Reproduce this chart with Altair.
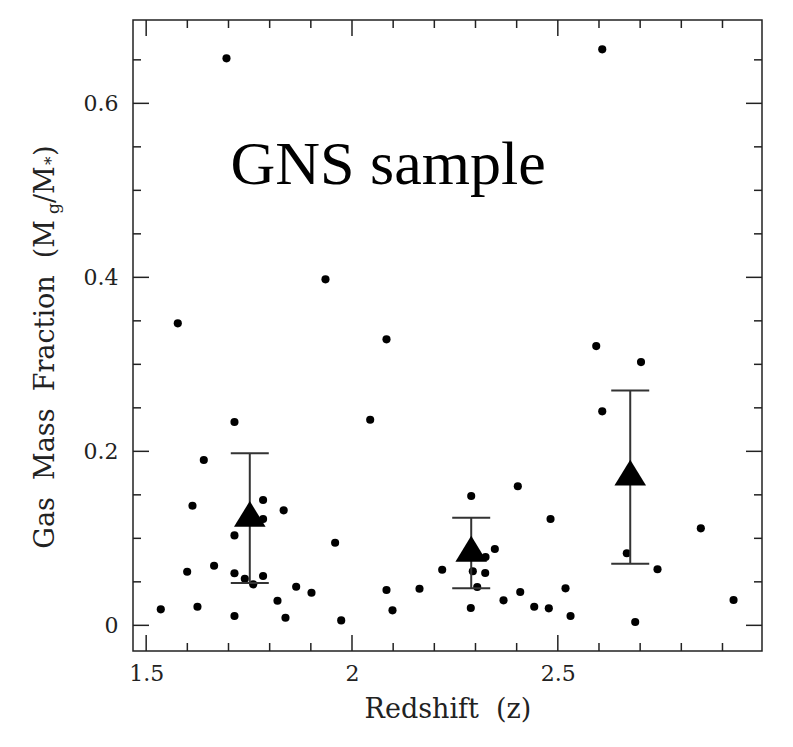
import altair as alt
import pandas as pd

# ---- data ----
z = [1.7145, 1.640, 1.6125, 1.784, 1.784, 1.834, 1.7145, 1.959, 1.5996, 1.665,
     1.7145, 1.7396, 1.760, 1.784, 1.8644, 1.9016, 1.819, 1.5355, 1.6246, 1.7145,
     1.8384, 1.9738, 2.0442, 2.2896, 2.4028, 2.4823, 2.0838, 2.0984, 2.164, 2.2191,
     2.2935, 2.3236, 2.3244, 2.347, 2.3042, 2.2886, 2.3681, 2.4087, 2.4427, 2.4781,
     2.5187, 2.5309, 2.5933, 2.7021, 2.6079, 2.8474, 2.6676, 2.7422, 2.688, 2.9269,
     1.6951, 1.5768, 1.9356, 2.0838, 2.6079]
fgas = [0.2337, 0.190, 0.1375, 0.144, 0.1222, 0.1322, 0.1034, 0.0949, 0.0616, 0.0685,
        0.0598, 0.0536, 0.0471, 0.0567, 0.0444, 0.0375, 0.0283, 0.0184, 0.0214, 0.0107,
        0.0087, 0.0057, 0.2363, 0.1486, 0.1598, 0.1222, 0.0406, 0.0172, 0.0421, 0.0639,
        0.0621, 0.0601, 0.0785, 0.0877, 0.0440, 0.0199, 0.0287, 0.0383, 0.0214, 0.0195,
        0.0425, 0.0107, 0.3210, 0.3026, 0.2460, 0.1115, 0.0828, 0.0644, 0.0038, 0.0291,
        0.6517, 0.3471, 0.3977, 0.3287, 0.6621]

bin_z = [1.7517, 2.2896, 2.6759]
bin_mean = [0.1231, 0.0831, 0.1705]
bin_lo = [0.0486, 0.0425, 0.0708]
bin_hi = [0.1977, 0.1237, 0.2700]

x_major = [1.5, 2.0, 2.5]
x_minor = [1.6, 1.7, 1.8, 1.9, 2.1, 2.2, 2.3, 2.4, 2.6, 2.7, 2.8, 2.9]
y_major = [0.0, 0.2, 0.4, 0.6]
y_minor = [0.05, 0.1, 0.15, 0.25, 0.3, 0.35, 0.45, 0.5, 0.55, 0.65]

label_text = ["GNS sample"]
label_x = [1.705]
label_y = [0.507]

# ---- layout ----
W, H = 629, 631
INK = "#222222"
SERIF = "DejaVu Serif"

xs = alt.Scale(domain=[1.468, 2.996], nice=False, zero=False)
ys = alt.Scale(domain=[-0.0295, 0.6958], nice=False, zero=False)

pts = pd.DataFrame({"z": z, "f": fgas})
bins = pd.DataFrame({"z": bin_z, "m": bin_mean, "lo": bin_lo, "hi": bin_hi})
caps = pd.DataFrame({"z": bin_z + bin_z, "v": bin_lo + bin_hi})

xaxis = alt.Axis(values=x_major, ticks=False, domain=False, grid=False,
                 labelFont=SERIF, labelFontSize=22, labelColor=INK, labelPadding=12,
                 labelExpr="datum.value + ''",
                 title="Redshift\u00a0\u00a0(z)", titleFont=SERIF, titleFontSize=27,
                 titleFontWeight="normal", titleColor=INK, titleBaseline="alphabetic",
                 titleY=66, titleX=W / 2, titleAlign="center")
yaxis = alt.Axis(values=y_major, ticks=False, domain=False, grid=False,
                 labelFont=SERIF, labelFontSize=22, labelColor=INK, labelPadding=15,
                 labelExpr="datum.value + ''", title=None)


def X(field):
    return alt.X(field, scale=xs, axis=xaxis)


def Y(field):
    return alt.Y(field, scale=ys, axis=yaxis)


points = alt.Chart(pts).mark_circle(size=66, color="black", opacity=1).encode(
    x=X("z:Q"), y=Y("f:Q"))


def xtick_layer(vals, y0, y1):
    return alt.Chart(pd.DataFrame({"t": vals})).mark_rule(color=INK, strokeWidth=1.5).encode(
        x=X("t:Q"), y=alt.value(y0), y2=alt.value(y1))


def ytick_layer(vals, x0, x1):
    return alt.Chart(pd.DataFrame({"t": vals})).mark_rule(color=INK, strokeWidth=1.5).encode(
        y=Y("t:Q"), x=alt.value(x0), x2=alt.value(x1))


MAJ, MIN = 16, 8
ticks = [
    xtick_layer(x_major, H, H - MAJ), xtick_layer(x_minor, H, H - MIN),
    xtick_layer(x_major, 0, MAJ), xtick_layer(x_minor, 0, MIN),
    ytick_layer(y_major, 0, MAJ), ytick_layer(y_minor, 0, MIN),
    ytick_layer(y_major, W, W - MAJ), ytick_layer(y_minor, W, W - MIN),
]

err = alt.Chart(bins).mark_rule(color="#333333", strokeWidth=2).encode(
    x=X("z:Q"), y=Y("lo:Q"), y2="hi:Q")
cap = alt.Chart(caps).mark_tick(color="#333333", orient="horizontal", size=38,
                                thickness=2, opacity=1).encode(
    x=X("z:Q"), y=Y("v:Q"))
tri = alt.Chart(bins).mark_point(shape="M0,-1.09L1,0.545L-1,0.545Z", size=1000,
                                 filled=True, color="black", opacity=1,
                                 strokeWidth=0).encode(
    x=X("z:Q"), y=Y("m:Q"))

label = alt.Chart(pd.DataFrame({"x": label_x, "y": label_y, "t": label_text})).mark_text(
    font="Liberation Serif", fontSize=62, align="left", baseline="alphabetic",
    color="black").encode(
    x=X("x:Q"), y=Y("y:Q"), text="t:N")

one = pd.DataFrame({"k": [0]})


def ytitle_piece(txt, ypx, size, dx, align):
    return alt.Chart(one).mark_text(
        text=txt, font=SERIF, fontSize=size, angle=270, align=align,
        baseline="alphabetic", color=INK).encode(
        x=alt.value(-79 + dx), y=alt.value(ypx))


ytitle = [
    ytitle_piece("Gas\u00a0\u00a0Mass\u00a0\u00a0Fraction\u00a0\u00a0(M", 200, 27, 0, "right"),
    ytitle_piece("g", 194, 17, 5, "left"),
    ytitle_piece("/M", 183, 27, 0, "left"),
    ytitle_piece("*", 145, 17, 3, "left"),
    ytitle_piece(")", 136, 27, 0, "left"),
]

chart = alt.layer(points, *ticks, err, cap, tri, label, *ytitle).properties(
    width=W, height=H,
    autosize=alt.AutoSizeParams(type="none"),
    padding={"left": 125, "top": 12, "right": 20, "bottom": 80},
    background="white",
).configure_view(stroke=INK, strokeWidth=1.5)

chart.save("out.html", embed_options={"renderer": "svg", "actions": False})
